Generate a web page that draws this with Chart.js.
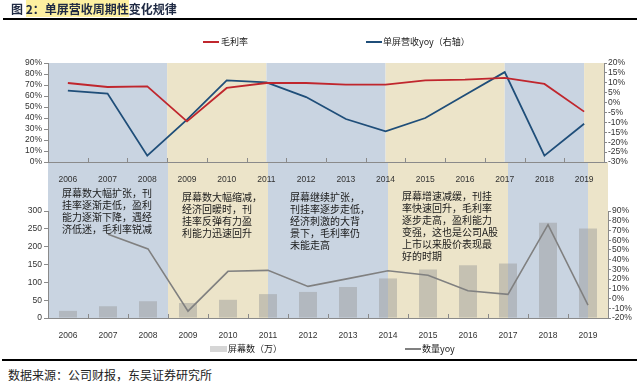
<!DOCTYPE html>
<html>
<head>
<meta charset="utf-8">
<script src="https://cdn.jsdelivr.net/npm/chart.js@4/dist/chart.umd.min.js"></script>
<style>
  html, body { margin:0; padding:0; background:#fff; }
  body { width:640px; height:382px; overflow:hidden; position:relative; font-family:"Noto Sans CJK SC", sans-serif; color:#1a1a1a; }
  #c1 { position:absolute; left:0; top:0; z-index:2; }
  #c2 { position:absolute; left:0; top:162px; z-index:1; }
  .abs { position:absolute; white-space:nowrap; }
  #title { left:11px; top:0px; font-size:12px; line-height:18px; font-weight:700; color:#1f2a44; z-index:3; }
  #title .hl { background:#fdf0a0; }
  .rule { position:absolute; left:3px; width:634px; height:2px; background:#000; z-index:3; }
  .leg { font-size:9px; line-height:12px; z-index:3; color:#222; }
  .sw { position:absolute; z-index:3; }
  .note { position:absolute; font-size:10px; line-height:12px; color:#1a1a1a; z-index:3; white-space:pre; }
  #src { left:8px; top:366px; font-size:12px; line-height:18px; color:#222; }
</style>
</head>
<body>
<div id="title" class="abs">图 <span class="hl">2：单屏营收周期性</span>变化规律</div>
<div class="rule" style="top:18px"></div>

<div class="sw" style="left:203px; top:41px; width:16px; height:2px; background:#c0262d"></div>
<div class="abs leg" style="left:221px; top:36px">毛利率</div>
<div class="sw" style="left:366px; top:41px; width:16px; height:2px; background:#1f4e79"></div>
<div class="abs leg" style="left:383px; top:36px">单屏营收yoy（右轴）</div>

<canvas id="c1" width="640" height="185"></canvas>
<canvas id="c2" width="640" height="220"></canvas>

<div class="note" style="left:62px; top:187px">屏幕数大幅扩张，刊
挂率逐渐走低，盈利
能力逐渐下降，遇经
济低迷，毛利率锐减</div>
<div class="note" style="left:182px; top:191px">屏幕数大幅缩减，
经济回暖时，刊
挂率反弹有力盈
利能力迅速回升</div>
<div class="note" style="left:290px; top:191px">屏幕继续扩张，
刊挂率逐步走低，
经济刺激的大背
景下，毛利率仍
未能走高</div>
<div class="note" style="left:402px; top:190px">屏幕增速减缓，刊挂
率快速回升，毛利率
逐步走高，盈利能力
变强，这也是公司A股
上市以来股价表现最
好的时期</div>

<div class="sw" style="left:210px; top:346px; width:17px; height:6px; background:#d6d6d6"></div>
<div class="abs leg" style="left:228px; top:343px">屏幕数（万）</div>
<div class="sw" style="left:405px; top:348px; width:16px; height:2px; background:#808080"></div>
<div class="abs leg" style="left:422px; top:343px">数量yoy</div>

<div class="rule" style="top:359px; left:2px; width:635px"></div>
<div id="src" class="abs">数据来源：公司财报，东吴证券研究所</div>

<script>
// ---- data ----
const years = ['2006','2007','2008','2009','2010','2011','2012','2013','2014','2015','2016','2017','2018','2019'];
const grossMargin = [71.8, 68.2, 68.7, 36.9, 67.3, 71.8, 71.8, 70.3, 70.3, 74.2, 74.8, 76.4, 71.0, 45.8];
const revPerScreenYoy = [6.0, 4.6, -26.8, -8.6, 11.2, 10.2, 2.8, -8.3, -14.5, -7.8, 3.8, 15.4, -26.8, -10.7];
const screenCount = [20, 33, 47, 42, 51, 67, 73, 87, 111, 136, 148, 153, 267, 251];
const screenCountYoy = [null, 66, 51, -13, 28, 29, 12.5, 20.5, 28.5, 24, 8, 4.3, 76, -6.7];
// axis ranges (tick labels)
const topLeftTicks = {min:0, max:90, step:10};
const topRightTicks = {min:-30, max:20, step:5};
const botLeftTicks = {min:0, max:300, step:50};
const botRightTicks = {min:-20, max:90, step:10};

// ---- styles ----
const BLUE_BAND = 'rgb(201,212,225)';
const BEIGE_BAND = 'rgb(236,228,201)';
const AXIS = '#8a8a8a';
const bandPlan = [[-0.5,2.5,BLUE_BAND],[2.5,5,BEIGE_BAND],[5,8,BLUE_BAND],[8,11,BEIGE_BAND],[11,13,BLUE_BAND],[13,13.5,BEIGE_BAND]];

Chart.defaults.font.family = '"Liberation Sans", Arial, sans-serif';
Chart.defaults.font.size = 8.5;
Chart.defaults.color = '#333';
Chart.defaults.animation = false;

function bandsPlugin(fromCanvasTop) {
  return {
    id: 'bands',
    beforeDraw(chart) {
      const {ctx, chartArea: a, scales: {x}} = chart;
      const p0 = x.getPixelForValue(0);
      const step = x.getPixelForValue(1) - p0;
      const top = fromCanvasTop ? 0 : a.top;
      ctx.save();
      bandPlan.forEach(([s, e, c]) => {
        const x0 = p0 + s * step, x1 = p0 + e * step;
        ctx.fillStyle = c;
        ctx.fillRect(x0, top, x1 - x0, a.bottom - top);
      });
      ctx.restore();
    }
  };
}
const innerTicks = {
  id: 'innerTicks',
  afterDraw(chart) {
    const {ctx, chartArea: a, scales: {x}} = chart;
    const p0 = x.getPixelForValue(0);
    const step = x.getPixelForValue(1) - p0;
    ctx.save();
    ctx.strokeStyle = AXIS;
    ctx.lineWidth = 1;
    ctx.beginPath();
    for (let i = 0; i <= years.length; i++) {
      const px = Math.round(p0 + (i - 0.5) * step) + 0.5;
      ctx.moveTo(px, a.bottom);
      ctx.lineTo(px, a.bottom - 4);
    }
    ctx.stroke();
    ctx.restore();
  }
};

function yAxis(pos, t, width, fmt, tickLen, pad) {
  return {
    position: pos,
    min: t.min, max: t.max,
    ticks: { stepSize: t.step, callback: fmt, padding: pad, autoSkip: false },
    grid: { display: true, drawOnChartArea: false, drawTicks: true, tickLength: tickLen, color: AXIS },
    border: { display: true, color: AXIS },
    afterFit(s) { s.width = width; }
  };
}
function xAxis() {
  return {
    offset: true,
    grid: { display: false },
    border: { display: true, color: AXIS },
    ticks: { padding: 5, maxRotation: 0, autoSkip: false },
    afterFit(s) { s.height = 22; }
  };
}
const pct = v => v + '%';

new Chart(document.getElementById('c1'), {
  type: 'line',
  data: {
    labels: years,
    datasets: [
      { label: '毛利率', data: grossMargin, yAxisID: 'y', borderColor: '#c0262d', borderWidth: 1.8, pointRadius: 0, tension: 0, order: 0 },
      { label: '单屏营收yoy（右轴）', data: revPerScreenYoy, yAxisID: 'y1', borderColor: '#1f4e79', borderWidth: 1.8, pointRadius: 0, tension: 0, order: 1 }
    ]
  },
  options: {
    responsive: false,
    devicePixelRatio: 1,
    layout: { padding: { top: 63, bottom: 1, left: 0, right: 0 } },
    plugins: { legend: { display: false }, tooltip: { enabled: false } },
    scales: {
      x: xAxis(),
      y: yAxis('left', topLeftTicks, 48, pct, 4, 2),
      y1: yAxis('right', topRightTicks, 36, pct, 3, 1)
    }
  },
  plugins: [bandsPlugin(false), innerTicks]
});

new Chart(document.getElementById('c2'), {
  type: 'bar',
  data: {
    labels: years,
    datasets: [
      { type: 'line', label: '数量yoy', data: screenCountYoy, yAxisID: 'y1', borderColor: '#808080', borderWidth: 1.6, pointRadius: 0, tension: 0, order: 0 },
      { type: 'bar', label: '屏幕数（万）', data: screenCount, yAxisID: 'y', backgroundColor: 'rgba(150,150,150,0.45)', barPercentage: 0.45, categoryPercentage: 1, order: 1 }
    ]
  },
  options: {
    responsive: false,
    devicePixelRatio: 1,
    layout: { padding: { top: 49, bottom: 42, left: 0, right: 0 } },
    plugins: { legend: { display: false }, tooltip: { enabled: false } },
    scales: {
      x: xAxis(),
      y: yAxis('left', botLeftTicks, 48, v => v, 4, 2),
      y1: yAxis('right', botRightTicks, 32, pct, 3, 1)
    }
  },
  plugins: [bandsPlugin(true), innerTicks]
});
</script>
</body>
</html>
